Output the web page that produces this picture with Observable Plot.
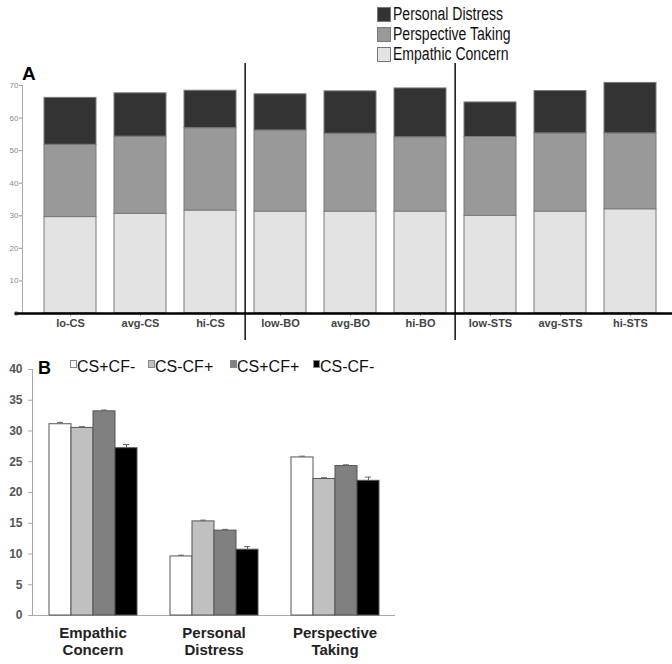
<!DOCTYPE html>
<html><head><meta charset="utf-8">
<script src="https://cdn.jsdelivr.net/npm/d3@7"></script>
<script src="https://cdn.jsdelivr.net/npm/@observablehq/plot@0.6"></script>
<style>
body{margin:0;background:#fff;font-family:"Liberation Sans",Arial,sans-serif;}
#wrap{position:relative;width:672px;height:664px;overflow:hidden;background:#fff;}
.abs{position:absolute;}
.legA{position:absolute;height:18px;white-space:nowrap;}
.legA .sw{position:absolute;left:0;top:1px;width:12px;height:13px;border:1.5px solid #777;}
.legA .tx{position:absolute;left:16px;top:-1px;font-size:18px;line-height:18px;color:#111;display:inline-block;transform:scaleX(0.78);transform-origin:0 50%;}
.legB{position:absolute;white-space:nowrap;font-size:16px;line-height:16px;color:#111;}
.legB .sw{position:absolute;left:0;top:1px;width:5px;height:6px;border:1px solid #888;}
.legB .tx{position:absolute;left:7px;top:0;}
</style></head><body><div id="wrap"></div>
<script>
// ---------- Panel A data ----------
const groupsA = ["lo-CS","avg-CS","hi-CS","low-BO","avg-BO","hi-BO","low-STS","avg-STS","hi-STS"];
const seriesA = ["Empathic Concern","Perspective Taking","Personal Distress"];
const empathicA    = [29.6, 30.6, 31.6, 31.3, 31.3, 31.3, 30.0, 31.3, 32.0];
const perspectiveA = [22.2, 23.7, 25.3, 24.9, 23.9, 22.8, 24.2, 24.0, 23.3];
const distressA    = [14.4, 13.3, 11.5, 11.1, 13.0, 15.0, 10.6, 13.0, 15.5];
const yTicksA = [0, 10, 20, 30, 40, 50, 60, 70];
const separatorsA = ["low-BO", "low-STS"];
const colorsA = ["#e3e3e3", "#999999", "#333333"];

// ---------- Panel B data ----------
const categoriesB = ["Empathic Concern","Personal Distress","Perspective Taking"];
const seriesB = ["CS+CF-","CS-CF+","CS+CF+","CS-CF-"];
const csPlusCfMinus  = [31.1,  9.6, 25.7];
const csMinusCfPlus  = [30.5, 15.3, 22.2];
const csPlusCfPlus   = [33.2, 13.8, 24.3];
const csMinusCfMinus = [27.2, 10.7, 21.9];
const errCsPlusCfMinus  = [0.3, 0.2, 0.2];
const errCsMinusCfPlus  = [0.2, 0.2, 0.2];
const errCsPlusCfPlus   = [0.2, 0.2, 0.2];
const errCsMinusCfMinus = [0.6, 0.5, 0.6];
const yTicksB = [0, 5, 10, 15, 20, 25, 30, 35, 40];
const colorsB = ["#ffffff", "#c0c0c0", "#808080", "#000000"];

const FONT = '"Liberation Sans", Arial, sans-serif';
const wrap = document.getElementById("wrap");

// ---------- Panel A ----------
const dataA = [];
[empathicA, perspectiveA, distressA].forEach((vals, si) => {
  groupsA.forEach((g, i) => dataA.push({group: g, series: seriesA[si], value: vals[i]}));
});
const mlA = 22, ilA = 12, irA = 6, pinA = 0.26, poutA = 0.1;
const stepA = (672 - mlA - ilA - irA) / (groupsA.length - pinA + 2 * poutA);

const chartA = Plot.plot({
  width: 672, height: 345,
  marginTop: 85, marginBottom: 32, marginLeft: mlA, marginRight: 0,
  style: {fontFamily: FONT},
  x: {domain: groupsA, paddingInner: pinA, paddingOuter: poutA, insetLeft: ilA, insetRight: irA, label: null},
  y: {domain: [0, 70], label: null},
  color: {domain: seriesA, range: colorsA},
  marks: [
    Plot.frame({anchor: "left", stroke: "#aaa"}),
    Plot.axisY({ticks: yTicksA, tickSize: 3, tickPadding: 1, fontSize: 8, fill: "#888", stroke: "#999", label: null}),
    Plot.barY(dataA, {x: "group", y: "value", fill: "series", stroke: "#7a7a7a", strokeWidth: 1}),
    Plot.axisX({tickSize: 3, tickPadding: 3, fontSize: 11, fontWeight: "bold", fill: "#444", stroke: "#999", label: null}),
    Plot.ruleX(separatorsA, {x: d => d, dx: -stepA / 2, stroke: "#111", strokeWidth: 1.5, insetTop: -22, insetBottom: -27}),
    Plot.frame({anchor: "bottom", stroke: "#000", strokeWidth: 2, insetLeft: -7}),
    Plot.ruleY([0], {stroke: "#000", strokeWidth: 2, insetLeft: -7})
  ]
});
chartA.style.position = "absolute";
chartA.style.left = "0px";
chartA.style.top = "0px";
wrap.appendChild(chartA);

// Panel A label
const labA = document.createElement("div");
labA.className = "abs";
labA.textContent = "A";
Object.assign(labA.style, {left: "22px", top: "64px", fontSize: "19px", fontWeight: "bold", lineHeight: "19px", color: "#000"});
wrap.appendChild(labA);

// Panel A legend (top right), top-down: Personal Distress, Perspective Taking, Empathic Concern
seriesA.slice().reverse().forEach((s, i) => {
  const row = document.createElement("div");
  row.className = "legA";
  row.style.left = "377px";
  row.style.top = (6 + i * 20) + "px";
  const sw = document.createElement("div");
  sw.className = "sw";
  sw.style.background = colorsA[seriesA.indexOf(s)];
  const tx = document.createElement("span");
  tx.className = "tx";
  tx.textContent = s;
  row.appendChild(sw); row.appendChild(tx);
  wrap.appendChild(row);
});

// ---------- Panel B ----------
const valsB = [csPlusCfMinus, csMinusCfPlus, csPlusCfPlus, csMinusCfMinus];
const errsB = [errCsPlusCfMinus, errCsMinusCfPlus, errCsPlusCfPlus, errCsMinusCfMinus];
const dataB = [];
categoriesB.forEach((c, ci) => {
  seriesB.forEach((s, si) => dataB.push({cat: c, series: s, value: valsB[si][ci], err: errsB[si][ci]}));
});

const chartB = Plot.plot({
  width: 400, height: 309,
  marginTop: 14, marginBottom: 49, marginLeft: 32, marginRight: 5,
  style: {fontFamily: FONT, background: "transparent", overflow: "visible"},
  fx: {domain: categoriesB, padding: 0, label: null},
  x: {domain: seriesB, paddingInner: 0, paddingOuter: 0.75, axis: null},
  y: {domain: [0, 40], label: null},
  color: {domain: seriesB, range: colorsB},
  marks: [
    Plot.axisY({ticks: yTicksB, tickSize: 4, tickPadding: 6, fontSize: 12, fontWeight: "bold", fill: "#555", stroke: "#aaa", label: null}),
    Plot.frame({anchor: "left", stroke: "#aaa", facetAnchor: "left"}),
    Plot.ruleY([0], {stroke: "#aaa"}),
    Plot.barY(dataB, {fx: "cat", x: "series", y: "value", fill: "series", stroke: "#555", strokeWidth: 1}),
    Plot.ruleX(dataB, {fx: "cat", x: "series", y1: "value", y2: d => d.value + d.err, stroke: "#666"}),
    Plot.tickY(dataB, {fx: "cat", x: "series", y: d => d.value + d.err, stroke: "#666", insetLeft: 8, insetRight: 8}),
    Plot.axisFx({anchor: "bottom", tickSize: 0, tickPadding: 10, fontSize: 15, fontWeight: "bold", fill: "#222", lineHeight: 1.15, label: null, tickFormat: d => d.replace(" ", "\n")})
  ]
});
chartB.style.position = "absolute";
chartB.style.left = "0px";
chartB.style.top = "355px";
wrap.appendChild(chartB);

// Panel B label
const labB = document.createElement("div");
labB.className = "abs";
labB.textContent = "B";
Object.assign(labB.style, {left: "38px", top: "359px", fontSize: "18px", fontWeight: "bold", lineHeight: "18px", color: "#000"});
wrap.appendChild(labB);

// Panel B legend
const legBLeft = [70, 148, 230, 313];
seriesB.forEach((s, i) => {
  const item = document.createElement("div");
  item.className = "legB";
  item.style.left = legBLeft[i] + "px";
  item.style.top = "359px";
  const sw = document.createElement("div");
  sw.className = "sw";
  sw.style.background = colorsB[i];
  const tx = document.createElement("span");
  tx.className = "tx";
  tx.textContent = s;
  item.appendChild(sw); item.appendChild(tx);
  wrap.appendChild(item);
});
</script></body></html>
